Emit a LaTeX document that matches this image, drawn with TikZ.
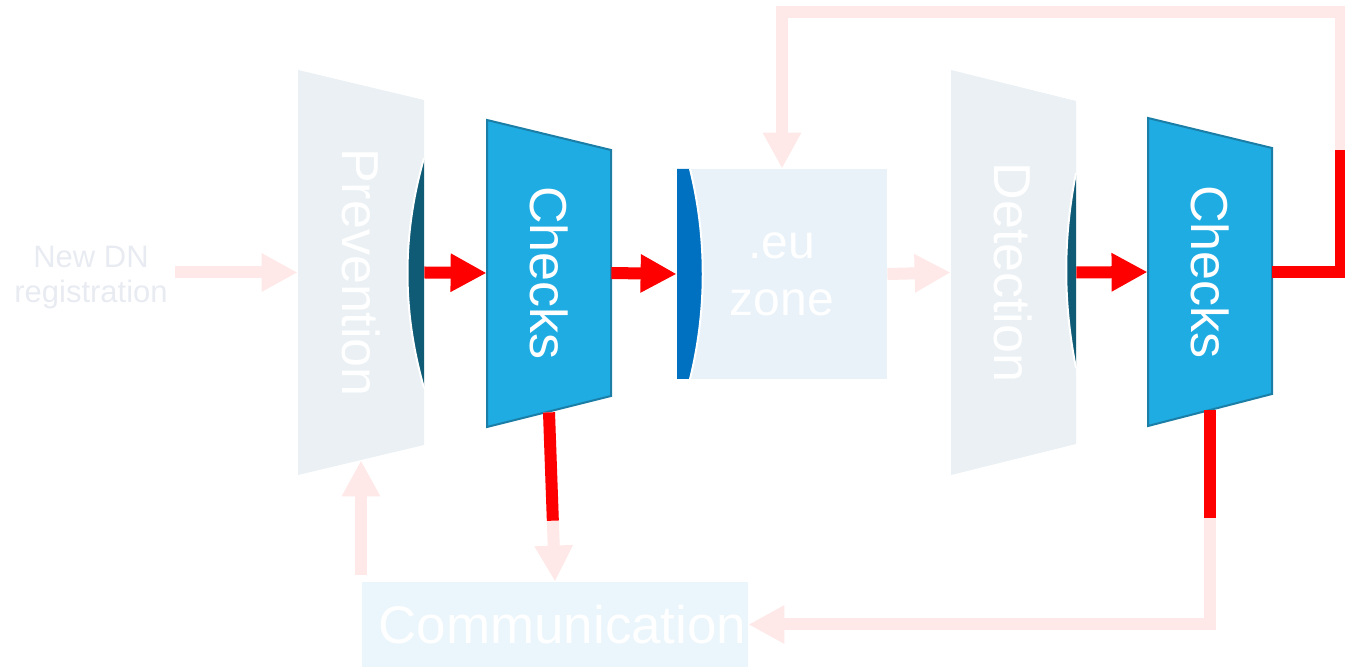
\documentclass[tikz,border=0pt]{standalone}
\usepackage{fontspec}
\setmainfont{Liberation Sans}
\usetikzlibrary{arrows.meta,calc}

\definecolor{stagegray}{HTML}{EAF0F3}
\definecolor{checkblue}{HTML}{1FACE2}
\definecolor{checkedge}{HTML}{1A7EA6}
\definecolor{lensdark}{HTML}{0F5A75}
\definecolor{lensblue}{HTML}{0070C0}
\definecolor{zonefill}{HTML}{E9F2F9}
\definecolor{commfill}{HTML}{EAF6FC}
\definecolor{flowpink}{HTML}{FFE8E8}
\definecolor{flowred}{HTML}{FF0000}
\definecolor{inputgray}{HTML}{E8EBF1}

\begin{document}
\begin{tikzpicture}[
  x=0.5pt, y=-0.5pt,
  big/.style={font=\fontsize{26}{30}\selectfont, text=white},
  stagebox/.style={big, inner sep=0pt},
  redline/.style={draw=flowred, line width=6pt},
  redarrow/.style={redline, -{Triangle[length=18pt,width=18pt]}},
  pinkline/.style={draw=flowpink, line width=6pt},
  pinkarrow/.style={pinkline, -{Triangle[length=18pt,width=18pt]}},
  lensedge/.style={draw=white, line width=1pt}
]
\useasboundingbox (0,0) rectangle (1345,667);

% stage shapes
\fill[stagegray] (298,70) -- (424,100) -- (424,445) -- (298,475) -- cycle;
\fill[stagegray] (951,70) -- (1076,101) -- (1076,444) -- (951,475) -- cycle;
\filldraw[fill=checkblue, draw=checkedge, line width=1pt] (487,120) -- (611,150) -- (611,396) -- (487,427) -- cycle;
\filldraw[fill=checkblue, draw=checkedge, line width=1pt] (1148,118) -- (1272,148) -- (1272,394) -- (1148,426) -- cycle;

% lenses
\fill[lensdark] (424,158) .. controls (402,235) and (402,311) .. (424,388) -- cycle;
\draw[lensedge] (424,158) .. controls (402,235) and (402,311) .. (424,388);
\fill[lensdark] (1076,173) .. controls (1063,238) and (1063,303) .. (1076,368) -- cycle;
\draw[lensedge] (1076,173) .. controls (1063,238) and (1063,303) .. (1076,368);

\node[stagebox, minimum width=63pt, minimum height=187.5pt] (prev) at (361,272.5) {\rotatebox{-90}{Prevention}};
\node[stagebox, minimum width=62pt, minimum height=139pt] (chk1) at (549,273) {\rotatebox{-90}{Checks}};
\node[stagebox, minimum width=62.5pt, minimum height=187.5pt] (det) at (1013.5,272.5) {\rotatebox{-90}{Detection}};
\node[stagebox, minimum width=62pt, minimum height=138pt] (chk2) at (1210,272) {\rotatebox{-90}{Checks}};

\node[stagebox, fill=zonefill, minimum size=105pt, align=center, font=\fontsize{24}{28.5}\selectfont] (eu) at (782,274) {.eu\\zone};
\fill[lensblue] (677,169) -- (690,169) .. controls (707,238) and (707,310) .. (690,379) -- (677,379) -- cycle;
\draw[lensedge] (690,169) .. controls (707,238) and (707,310) .. (690,379);

\node[stagebox, fill=commfill, minimum width=193pt, minimum height=42.5pt, text width=191.5pt, align=right, font=\fontsize{26.5}{30}\selectfont] (comm) at (555,624.5) {Communication};
\node[text=inputgray, align=center, font=\fontsize{15.5}{17.5}\selectfont] (newdn) at (91,278) {New DN\\registration};

% flows
\draw[pinkarrow] (newdn.east |- prev.west) -- (prev.west);
\draw[pinkarrow] (eu.east) -- (det.west);
\draw[pinkarrow] ($(comm.north -| prev.south)+(0,-7)$) -- (prev.south);
\draw[pinkarrow] (chk1.south) -- (comm.north);
\draw[pinkarrow] (chk2.south) |- (comm.east);
\draw[pinkarrow] (chk2.east) -| (1341,12) -| (eu.north);
\draw[redarrow] (prev.east) -- (chk1.west);
\draw[redarrow] (chk1.east) -- (eu.west);
\draw[redarrow] (det.east) -- (chk2.west);
\draw[redline] (chk1.south) -- ($(chk1.south)!0.64!(comm.north)$);
\draw[redline] (chk2.south) -- ++(0,108);
\draw[redline] (chk2.east) -| (1341,150);
\end{tikzpicture}
\end{document}
